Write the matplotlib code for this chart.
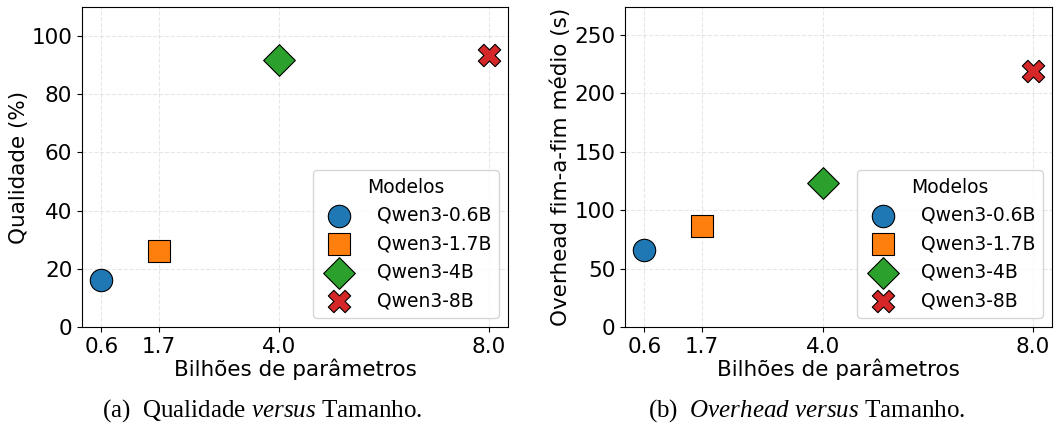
import matplotlib
matplotlib.use('Agg')
import matplotlib.pyplot as plt

params = [0.6, 1.7, 4.0, 8.0]
models = ['Qwen3-0.6B', 'Qwen3-1.7B', 'Qwen3-4B', 'Qwen3-8B']
quality = [16.2, 26.2, 91.7, 93.4]
overhead = [65.9, 86.5, 123.3, 219.2]

colors = ['#1f77b4', '#ff7f0e', '#2ca02c', '#d62728']
markers = ['o', 's', 'D', 'X']
sizes = [260, 260, 260, 260]

plt.rcParams['mathtext.fontset'] = 'custom'
plt.rcParams['mathtext.rm'] = 'Liberation Serif'
plt.rcParams['mathtext.it'] = 'Liberation Serif:italic'

fig = plt.figure(figsize=(10.57, 4.25), dpi=100)
ax1 = fig.add_axes([0.0776, 0.2306, 0.403, 0.753])
ax2 = fig.add_axes([0.5913, 0.2306, 0.404, 0.753])


def draw(ax, values, ylabel, ymax):
    for x, y, m, c, s, lab in zip(params, values, markers, colors, sizes, models):
        ax.scatter(x, y, marker=m, s=s, color=c, edgecolor='black',
                   linewidth=0.8, label=lab, zorder=3)
    ax.set_xticks(params)
    ax.set_xticklabels([f'{p:.1f}' for p in params])
    ax.set_ylim(0, ymax)
    ax.tick_params(labelsize=15.5)
    ax.set_xlabel('Bilhões de parâmetros', fontsize=15.5, labelpad=1)
    ax.set_ylabel(ylabel, fontsize=15.5, labelpad=2)
    ax.grid(True, linestyle='--', alpha=0.3)
    ax.legend(title='Modelos', fontsize=13.5, title_fontsize=13.5,
              loc='lower right', handletextpad=1.0)


draw(ax1, quality, 'Qualidade (%)', 110)
draw(ax2, overhead, 'Overhead fim-a-fim médio (s)', max(overhead) * 1.25)

fig.text(0.248, 0.035, r'(a)  Qualidade $\mathit{versus}$ Tamanho.',
         ha='center', va='center', fontsize=18, family='Liberation Serif')
fig.text(0.763, 0.035, r'(b)  $\mathit{Overhead\ versus}$ Tamanho.',
         ha='center', va='center', fontsize=18, family='Liberation Serif')

fig.savefig('out.png', dpi=100)
